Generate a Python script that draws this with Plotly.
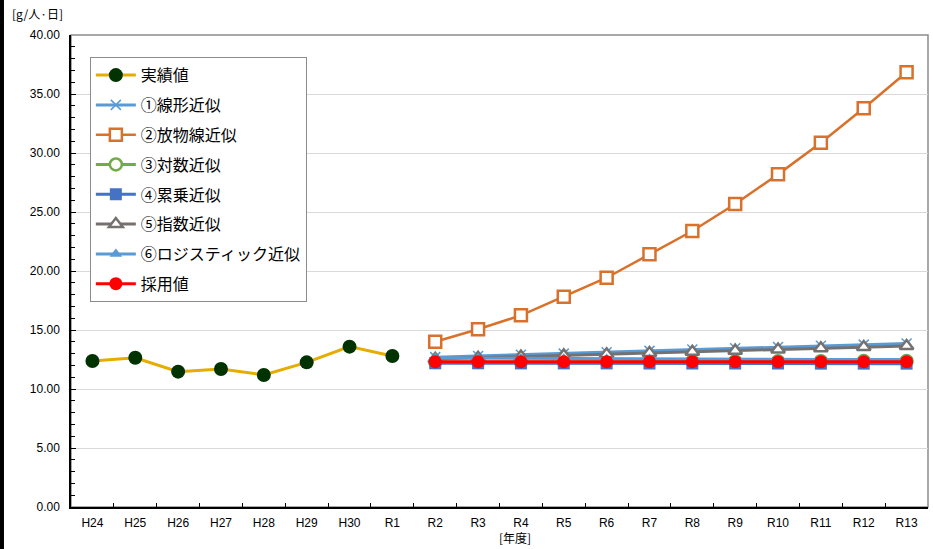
import plotly.graph_objects as go

years = ["H24", "H25", "H26", "H27", "H28", "H29", "H30", "R1",
         "R2", "R3", "R4", "R5", "R6", "R7", "R8", "R9", "R10", "R11", "R12", "R13"]
actual_years = years[:8]
fc_years = years[8:]

actual = [12.37, 12.65, 11.47, 11.70, 11.19, 12.26, 13.59, 12.80]
linear = [12.70, 12.80, 12.90, 13.00, 13.12, 13.23, 13.34, 13.45, 13.56, 13.66, 13.76, 13.86]
parabolic = [14.01, 15.06, 16.24, 17.82, 19.43, 21.41, 23.39, 25.68, 28.19, 30.87, 33.79, 36.84]
logarithmic = [12.28, 12.29, 12.30, 12.31, 12.32, 12.33, 12.34, 12.35, 12.35, 12.36, 12.37, 12.37]
power = [12.18, 12.18, 12.17, 12.17, 12.17, 12.16, 12.16, 12.16, 12.16, 12.15, 12.15, 12.15]
exponential = [12.55, 12.65, 12.75, 12.85, 12.95, 13.05, 13.15, 13.25, 13.35, 13.45, 13.55, 13.65]
logistic = [12.62, 12.60, 12.58, 12.56, 12.55, 12.54, 12.53, 12.52, 12.51, 12.50, 12.50, 12.50]
adopted = [12.31, 12.31, 12.31, 12.31, 12.31, 12.31, 12.31, 12.31, 12.31, 12.31, 12.31, 12.31]

names = ["実績値", "①線形近似", "②放物線近似", "③対数近似", "④累乗近似",
         "⑤指数近似", "⑥ロジスティック近似", "採用値"]

fig = go.Figure()

def add(name, x, y, lcolor, lwidth, symbol, msize, mcolor, mline_color, mline_w, group):
    fig.add_trace(go.Scatter(
        x=x, y=y, name=name, mode="lines+markers", legendgroup=group,
        line=dict(color=lcolor, width=lwidth),
        marker=dict(symbol=symbol, size=msize, color=mcolor,
                    line=dict(color=mline_color, width=mline_w)),
    ))

add(names[0], actual_years, actual, "#E6AC00", 3, "circle", 14, "#003300", "#003300", 0, "g0")
add(names[1], fc_years, linear, "#5B9BD5", 3, "x-thin-open", 10, "#5B9BD5", "#5B9BD5", 1.5, "g1")
add(names[2], fc_years, parabolic, "#D9712B", 2.5, "square", 12, "white", "#D9712B", 2.5, "g2")
add(names[3], fc_years, logarithmic, "#70AD47", 3, "circle", 12, "white", "#70AD47", 2.5, "g3")
add(names[4], fc_years, power, "#4472C4", 3, "square", 12, "#4472C4", "#4472C4", 0, "g4")
add(names[5], fc_years, exponential, "#767171", 3, "triangle-up", 12, "white", "#767171", 2.5, "g5")
add(names[6], fc_years, logistic, "#5B9BD5", 3, "triangle-up", 11, "#5B9BD5", "#5B9BD5", 0, "g6")
add(names[7], fc_years, adopted, "#FF0000", 3, "circle", 13, "#FF0000", "#FF0000", 0, "g7")

tickfont = dict(family="Liberation Sans, Arial", size=12, color="black")

fig.update_layout(
    width=933, height=549,
    margin=dict(l=71, r=5, t=35, b=42),
    paper_bgcolor="white", plot_bgcolor="white",
    showlegend=True,
    legend=dict(
        x=0.022, y=0.953, xanchor="left", yanchor="top",
        bgcolor="white", bordercolor="#8c8c8c", borderwidth=1,
        font=dict(family="Noto Sans CJK JP", size=16, color="black"),
        tracegroupgap=6, traceorder="grouped",
        itemwidth=40,
    ),
    xaxis=dict(
        type="category", categoryorder="array", categoryarray=years,
        range=[-0.5, 19.5], showgrid=False,
        showline=True, linecolor="black", linewidth=1.5,
        ticks="inside", tickson="boundaries", ticklen=4, tickcolor="black",
        tickfont=tickfont, ticklabelstandoff=4,
    ),
    yaxis=dict(
        range=[0, 40], dtick=5, tickformat=".2f",
        showgrid=True, gridcolor="#d9d9d9", gridwidth=1,
        showline=True, linecolor="black", linewidth=1.5,
        ticks="inside", ticklen=5, tickcolor="black",
        minor=dict(dtick=1, ticks="inside", ticklen=4, tickcolor="black", showgrid=False),
        tickfont=tickfont, zeroline=False, ticklabelstandoff=7,
    ),
    shapes=[
        dict(type="rect", xref="paper", yref="paper", x0=0, x1=1, y0=0, y1=1,
             line=dict(color="#8c8c8c", width=1.5), layer="below"),
        dict(type="rect", xref="paper", yref="paper",
             x0=-0.0829, x1=-0.0782, y0=-0.09, y1=1.075,
             line=dict(width=0), fillcolor="black", layer="above"),
    ],
    annotations=[
        dict(text="[g/人·日]", xref="paper", yref="paper", x=-0.071, y=1.045,
             xanchor="left", yanchor="middle", showarrow=False,
             font=dict(family="Noto Sans CJK JP", size=12, color="black")),
        dict(text="[年度]", xref="paper", yref="paper", x=0.518, y=-0.065,
             xanchor="center", yanchor="middle", showarrow=False,
             font=dict(family="Noto Sans CJK JP", size=12, color="black")),
    ],
)

fig.write_html("out.html", config={"displayModeBar": False},
               post_script="document.body.style.margin='0';")
